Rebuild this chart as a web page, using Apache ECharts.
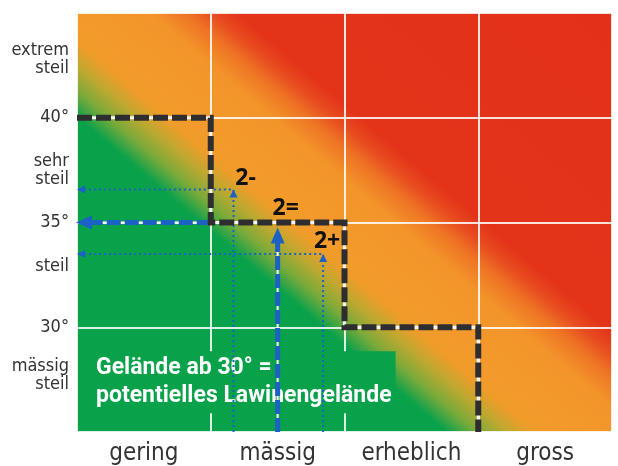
<!DOCTYPE html>
<html><head><meta charset="utf-8">
<script src="https://cdn.jsdelivr.net/npm/echarts@6/dist/echarts.min.js"></script>
<style>html,body{margin:0;padding:0;background:#fff}#c{width:618px;height:466px}</style>
</head><body><div id="c"></div>
<script>
// ---- data ----
const dangerLevels = ['gering', 'mässig', 'erheblich', 'gross'];
const dangerLabelPos = [0.5, 1.5, 2.5, 3.5];
const slopeLabels = ['mässig\nsteil', '30°', 'steil', '35°', 'sehr\nsteil', '40°', 'extrem\nsteil'];
const slopeLabelPos = [27.7, 30, 32.9, 35, 37.5, 40, 42.8];
const thresholdX = [0, 1, 1, 2, 2, 3, 3];
const thresholdY = [40, 40, 35, 35, 30, 30, 25];
const mainUpX = [1.5, 1.5];
const mainUpY = [25, 34.38];
const mainLeftX = [1, 0.052];
const mainLeftY = [35, 35];
const minusX = [1.17, 1.17, 1.17, 0.03];
const minusY = [25, 36.38, 36.57, 36.57];
const plusX = [1.84, 1.84, 1.84, 0.03];
const plusY = [25, 33.31, 33.5, 33.5];
const subLevelNames = ['2-', '2=', '2+'];
const subLevelX = [1.26, 1.56, 1.87];
const subLevelY = [37.1, 35.67, 34.1];
const noteLines = ['Gelände ab 30° =', 'potentielles Lawinengelände'];
const notePosX = [0.112];
const notePosY = [27.38];

// ---- helpers ----
const zip = (xs, ys) => xs.map((x, i) => [x, ys[i]]);
const GREEN = '#0aa14b', BLUE = '#1c62c4', DARK = '#2e2e30';
const AXIS_FONT = "'Liberation Sans Narrow','DejaVu Sans Condensed','Roboto Condensed',sans-serif";

// linear gradient whose iso-lines run down-right with pixel slope k
function diagGradient(W, H, k) {
  const smax = k * W + H;
  const lam = smax / (k * k + 1);
  return new echarts.graphic.LinearGradient(0, 1, k * lam / W, 1 - lam / H, [
    { offset: 0, color: GREEN },
    { offset: 0.36, color: GREEN },
    { offset: 0.39, color: '#7aaa3a' },
    { offset: 0.42, color: '#c0a830' },
    { offset: 0.445, color: '#ee9c2a' },
    { offset: 0.47, color: '#f39a2c' },
    { offset: 0.55, color: '#f3942a' },
    { offset: 0.585, color: '#ee7424' },
    { offset: 0.61, color: '#e84c1f' },
    { offset: 0.635, color: '#e3341a' },
    { offset: 1, color: '#e3301a' }
  ]);
}

function arrowPath(xs, ys, arrowIdx, rot, size) {
  return zip(xs, ys).map((p, i) => {
    const k = arrowIdx.indexOf(i);
    if (k < 0) return { value: p, symbol: 'none' };
    return { value: p, symbol: 'triangle', symbolSize: size, symbolRotate: rot[k] };
  });
}

const chart = echarts.init(document.getElementById('c'), null, { renderer: 'canvas' });
const gridW = 618 - 77 - 6, gridH = 466 - 13 - 33;

chart.setOption({
  animation: false,
  backgroundColor: '#fff',
  grid: { left: 77, right: 6, top: 13, bottom: 33, show: true, borderWidth: 0,
          backgroundColor: diagGradient(gridW, gridH, 0.85) },
  xAxis: {
    type: 'value', min: 0, max: 4, interval: 1,
    axisLine: { show: false }, axisTick: { show: false },
    splitLine: { show: true, lineStyle: { color: 'rgba(255,255,255,0.85)', width: 2 } },
    axisLabel: {
      customValues: dangerLabelPos,
      formatter: v => dangerLevels[dangerLabelPos.indexOf(v)] || '',
      color: '#333', fontSize: 24, fontFamily: AXIS_FONT, margin: 10
    }
  },
  yAxis: {
    type: 'value', min: 25, max: 45, interval: 5,
    axisLine: { show: false }, axisTick: { show: false },
    splitLine: { show: true, lineStyle: { color: 'rgba(255,255,255,0.85)', width: 2 } },
    axisLabel: {
      customValues: slopeLabelPos,
      formatter: v => slopeLabels[slopeLabelPos.indexOf(v)] || '',
      color: '#333', fontSize: 18, lineHeight: 18, fontFamily: AXIS_FONT, margin: 8, align: 'right'
    }
  },
  series: [
    { // note text
      type: 'scatter', z: 2, symbolSize: 0, silent: true,
      itemStyle: { opacity: 1 },
      data: zip(notePosX, notePosY),
      label: { show: true, position: 'right', distance: 0, opacity: 1,
        formatter: () => noteLines.join('\n'),
        color: '#fff', fontSize: 23, fontWeight: 'bold', lineHeight: 28,
        fontFamily: "Roboto,'Open Sans',sans-serif", backgroundColor: GREEN, padding: [3, 4] }
    },
    { // thin dotted 2-
      type: 'line', z: 3, silent: true,
      data: arrowPath(minusX, minusY, [1, 3], [0, 90], [8, 8]),
      lineStyle: { color: BLUE, width: 2, type: [2, 3] }, itemStyle: { color: BLUE }
    },
    { // thin dotted 2+
      type: 'line', z: 3, silent: true,
      data: arrowPath(plusX, plusY, [1, 3], [0, 90], [8, 8]),
      lineStyle: { color: BLUE, width: 2, type: [2, 3] }, itemStyle: { color: BLUE }
    },
    { // thick blue underlay
      type: 'line', z: 4, silent: true, symbol: 'none',
      data: zip(mainUpX, mainUpY),
      lineStyle: { color: '#fff', width: 2 }
    },
    {
      type: 'line', z: 4, silent: true, symbol: 'none',
      data: zip(mainLeftX, mainLeftY),
      lineStyle: { color: '#fff', width: 2 }
    },
    { // thick blue up arrow
      type: 'line', z: 5, silent: true,
      data: arrowPath(mainUpX, mainUpY, [1], [0], [14, 16]),
      lineStyle: { color: BLUE, width: 5, type: [14, 4] }, itemStyle: { color: BLUE }
    },
    { // thick blue left arrow
      type: 'line', z: 5, silent: true,
      data: arrowPath(mainLeftX, mainLeftY, [1], [90], [14, 16]),
      lineStyle: { color: BLUE, width: 5, type: [14, 4] }, itemStyle: { color: BLUE }
    },
    { // threshold step underlay
      type: 'line', z: 6, silent: true, symbol: 'none',
      data: zip(thresholdX, thresholdY),
      lineStyle: { color: '#f4f4f4', width: 3, join: 'miter', cap: 'butt' }
    },
    { // threshold step dashed
      type: 'line', z: 7, silent: true, symbol: 'none',
      data: zip(thresholdX, thresholdY),
      lineStyle: { color: DARK, width: 6, type: [15, 4], join: 'miter', cap: 'butt' }
    },
    { // sub level labels
      type: 'scatter', z: 8, symbolSize: 0, silent: true,
      itemStyle: { opacity: 1 },
      data: subLevelX.map((x, i) => ({ value: [x, subLevelY[i]], name: subLevelNames[i] })),
      label: { show: true, position: 'inside', formatter: p => p.name, opacity: 1,
        color: '#111', fontSize: 23, fontWeight: 'bold', fontFamily: "'Open Sans',sans-serif" }
    }
  ]
});
</script></body></html>
